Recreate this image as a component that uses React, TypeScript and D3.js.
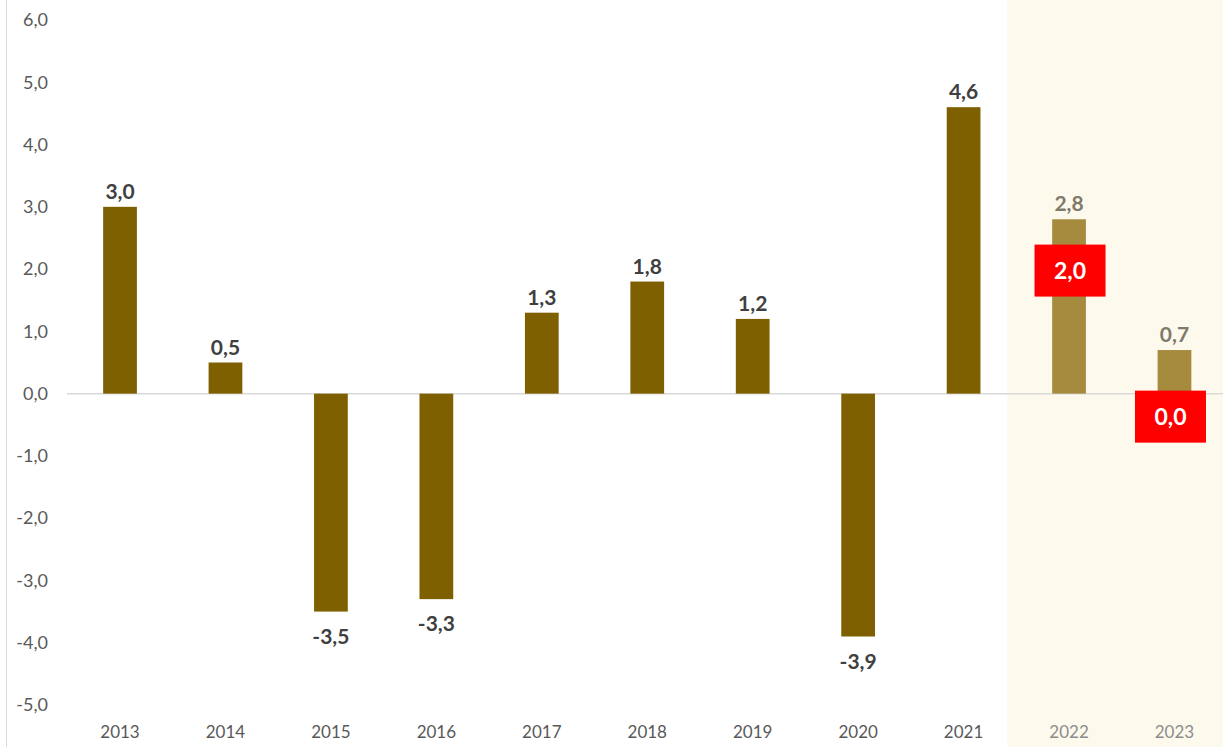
import React from "react";
import * as d3 from "d3";

const years = ["2013","2014","2015","2016","2017","2018","2019","2020","2021","2022","2023"];
const values = [3.0, 0.5, -3.5, -3.3, 1.3, 1.8, 1.2, -3.9, 4.6, 2.8, 0.7];
const forecastYears = ["2022", "2023"];
const revisedYears = ["2022", "2023"];
const revisedValues = [2.0, 0.0];
const yTicks = [6, 5, 4, 3, 2, 1, 0, -1, -2, -3, -4, -5];

const W = 1223, H = 747;
const FONT = "Lato, 'Open Sans', sans-serif";

export default function App() {
  const x = d3.scaleBand<string>().domain(years).range([67.3, 1227.2]).paddingInner(0.68).paddingOuter(0.34);
  const y = d3.scaleLinear().domain([-5, 6]).range([705, 20]);
  const fmt = (v: number) => v.toFixed(1).replace(".", ",");
  const step = x.step();
  const shadeX = (x("2022") as number) - (step - x.bandwidth()) / 2 - 9;
  const bw = x.bandwidth();
  return (
    <svg width={W} height={H} style={{ position: "fixed", left: 0, top: 0, background: "#fff" }} fontFamily={FONT}>
      <rect x={shadeX} y={0} width={W - shadeX} height={H} fill="#fef9ed" />
      <line x1={6.5} x2={6.5} y1={0} y2={H} stroke="#d9d9d9" strokeWidth={1} />
      {yTicks.map((t) => (
        <text key={t} x={48} y={y(t)} dy="0.35em" textAnchor="end" fontSize={18} fill="#595959">{fmt(t)}</text>
      ))}
      <line x1={67} x2={W} y1={y(0)} y2={y(0)} stroke="#d9d9d9" strokeWidth={1.5} />
      {years.map((yr, i) => {
        const v = values[i];
        const fc = forecastYears.includes(yr);
        const x0 = x(yr) as number;
        const top = Math.min(y(v), y(0));
        const h = Math.abs(y(v) - y(0));
        return (
          <g key={yr}>
            <rect x={x0} y={top} width={bw} height={h} fill={fc ? "#a68b3f" : "#7f6000"} />
            <text x={x0 + bw / 2} y={v >= 0 ? y(v) - 8 : y(v) + 32} textAnchor="middle" fontSize={21} fontWeight="bold" fill={fc ? "#7f7b6b" : "#404040"}>{fmt(v)}</text>
            <text x={x0 + bw / 2} y={738} textAnchor="middle" fontSize={17} fill={fc ? "#8c8c8c" : "#595959"}>{yr}</text>
          </g>
        );
      })}
      {revisedYears.map((yr, i) => {
        const v = revisedValues[i];
        const cx = (x(yr) as number) + bw / 2 + (i === 0 ? 1 : -4);
        const cy = i === 0 ? y(v) + 1.5 : y(v) + 23;
        return (
          <g key={"r" + yr}>
            <rect x={cx - 35.5} y={cy - 26} width={71} height={52} fill="#ff0000" />
            <text x={cx} y={cy} dy="0.36em" textAnchor="middle" fontSize={23} fontWeight="bold" fill="#ffffff">{fmt(v)}</text>
          </g>
        );
      })}
    </svg>
  );
}
